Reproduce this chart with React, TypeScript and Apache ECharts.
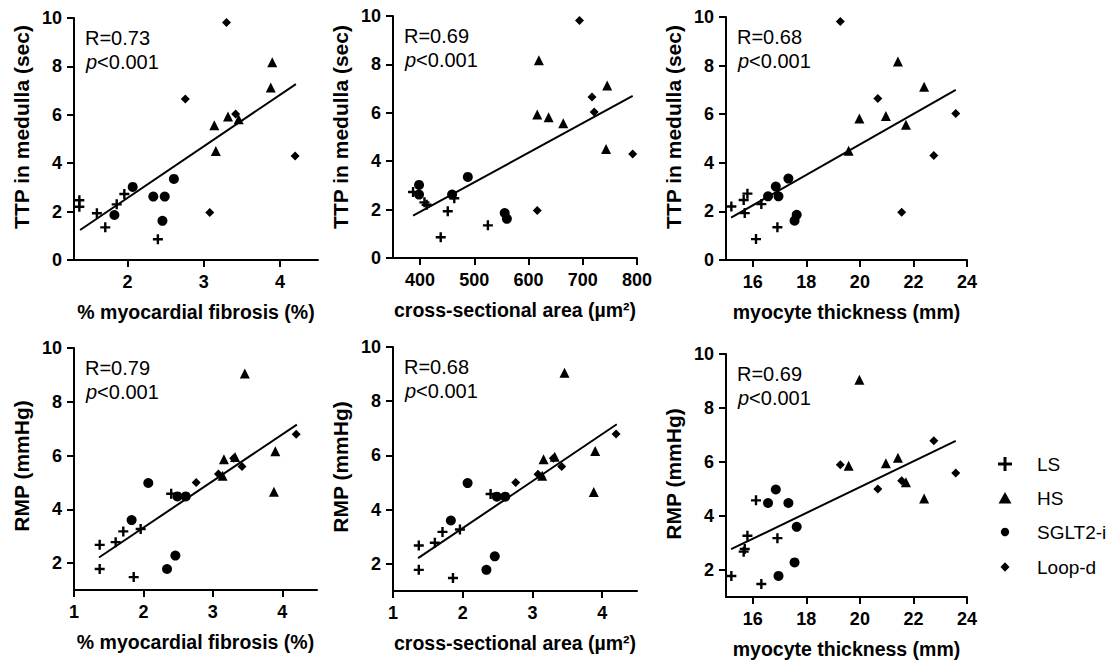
import React, { useEffect, useRef } from 'react';
import * as echarts from 'echarts';

// ---------- data ----------
const groupNames = ['LS', 'HS', 'SGLT2-i', 'Loop-d'];

// LS
const lsFibrosis = [1.37, 1.37, 1.6, 1.71, 1.86, 1.96, 2.4];
const lsArea = [463, 412, 451, 525, 408, 387, 438];
const lsThickness = [15.66, 15.2, 15.7, 16.92, 16.32, 15.8, 16.12];
const lsTtp = [2.47, 2.2, 1.93, 1.35, 2.3, 2.73, 0.86];
const lsRmp = [2.68, 1.78, 2.78, 3.18, 1.48, 3.27, 4.58];

// HS
const hsFibrosis = [3.9, 3.88, 3.14, 3.16, 3.32, 3.46];
const hsArea = [619, 745, 664, 743, 616, 637];
const hsThickness = [21.42, 22.4, 21.72, 19.58, 20.97, 19.98];
const hsTtp = [8.17, 7.13, 5.57, 4.5, 5.93, 5.82];
const hsRmp = [6.16, 4.65, 5.25, 5.86, 5.95, 9.05];

// SGLT2-i
const sgFibrosis = [1.83, 2.07, 2.34, 2.49, 2.46, 2.61];
const sgArea = [556, 398, 459, 398, 560, 488];
const sgThickness = [17.64, 16.86, 16.96, 16.57, 17.56, 17.33];
const sgTtp = [1.86, 3.02, 2.62, 2.62, 1.62, 3.35];
const sgRmp = [3.6, 4.98, 1.78, 4.48, 2.28, 4.48];

// Loop-d
const ldFibrosis = [3.3, 2.76, 3.42, 3.08, 4.2];
const ldArea = [694, 717, 721, 616, 792];
const ldThickness = [19.27, 20.67, 23.58, 21.56, 22.76];
const ldTtp = [9.81, 6.65, 6.03, 1.96, 4.3];
const ldRmp = [5.9, 5.0, 5.59, 5.31, 6.79];

// fitted regression lines (end points)
const fitTtpFibrosis = [[1.38, 1.24], [4.21, 7.27]];
const fitTtpArea = [[387, 1.75], [792, 6.7]];
const fitTtpThickness = [[15.19, 1.74], [23.58, 7.0]];
const fitRmpFibrosis = [[1.36, 2.21], [4.21, 7.15]];
const fitRmpThickness = [[15.19, 2.77], [23.58, 6.78]];

// tick values
const ttpTicks = [0, 2, 4, 6, 8, 10];
const rmpTicks = [2, 4, 6, 8, 10];
const fibrosisTicksTop = [2, 3, 4];
const fibrosisTicksBottom = [1, 2, 3, 4];
const areaTicks = [400, 500, 600, 700, 800];
const thicknessTicks = [16, 18, 20, 22, 24];

const rLabels = ['R=0.73', 'R=0.69', 'R=0.68', 'R=0.79', 'R=0.68', 'R=0.69'];
const pLabel = '<0.001';

// ---------- assembly ----------
const groupX: Record<string, number[][]> = {
  fib: [lsFibrosis, hsFibrosis, sgFibrosis, ldFibrosis],
  area: [lsArea, hsArea, sgArea, ldArea],
  thick: [lsThickness, hsThickness, sgThickness, ldThickness],
};
const groupY: Record<string, number[][]> = {
  ttp: [lsTtp, hsTtp, sgTtp, ldTtp],
  rmp: [lsRmp, hsRmp, sgRmp, ldRmp],
};

const FONT = '"Liberation Sans", Arial, Helvetica, sans-serif';
const PLUS = 'path://M3.8,0h2.4v3.8h3.8v2.4h-3.8v3.8h-2.4v-3.8h-3.8v-2.4h3.8z';
const symbols = [PLUS, 'triangle', 'circle', 'diamond'];
const symbolSizes = [10, 10, 10, 9];

const panels = [
  { x: 'fib', y: 'ttp', grid: { left: 74, top: 18, width: 244, height: 242 }, yTitle: [21, 127], xMin: 1.3, xMax: 4.5, xTicks: fibrosisTicksTop, yMin: 0, yTicks: ttpTicks, xName: '% myocardial fibrosis (%)', yName: 'TTP in medulla (sec)', fit: fitTtpFibrosis },
  { x: 'area', y: 'ttp', grid: { left: 393, top: 16, width: 244, height: 242 }, yTitle: [340, 127], xMin: 350, xMax: 800, xTicks: areaTicks, yMin: 0, yTicks: ttpTicks, xName: 'cross-sectional area (µm²)', yName: 'TTP in medulla (sec)', fit: fitTtpArea },
  { x: 'thick', y: 'ttp', grid: { left: 726, top: 17, width: 241, height: 243 }, yTitle: [673, 127], xMin: 15, xMax: 24, xTicks: thicknessTicks, yMin: 0, yTicks: ttpTicks, xName: 'myocyte thickness (mm)', yName: 'TTP in medulla (sec)', fit: fitTtpThickness },
  { x: 'fib', y: 'rmp', grid: { left: 74, top: 348, width: 243, height: 242 }, yTitle: [21, 466], xMin: 1, xMax: 4.5, xTicks: fibrosisTicksBottom, yMin: 1, yTicks: rmpTicks, xName: '% myocardial fibrosis (%)', yName: 'RMP (mmHg)', fit: fitRmpFibrosis },
  { x: 'fib', y: 'rmp', grid: { left: 393, top: 347, width: 244, height: 244 }, yTitle: [340, 467], xMin: 1, xMax: 4.5, xTicks: fibrosisTicksBottom, yMin: 1, yTicks: rmpTicks, xName: 'cross-sectional area (µm²)', yName: 'RMP (mmHg)', fit: fitRmpFibrosis },
  { x: 'thick', y: 'rmp', grid: { left: 726, top: 354, width: 241, height: 243 }, yTitle: [673, 474], xMin: 15, xMax: 24, xTicks: thicknessTicks, yMin: 1, yTicks: rmpTicks, xName: 'myocyte thickness (mm)', yName: 'RMP (mmHg)', fit: fitRmpThickness },
];

function buildOption() {
  const axisLine = { show: true, onZero: false, lineStyle: { color: '#000', width: 2 } };
  const labelStyle = { color: '#000', fontWeight: 'bold' as const, fontSize: 18, fontFamily: FONT };
  const nameStyle = { color: '#000', fontWeight: 'bold' as const, fontSize: 19.5, fontFamily: FONT };

  const grid = panels.map((p) => ({ ...p.grid, containLabel: false }));
  const xAxis = panels.map((p, i) => ({
    type: 'value', gridIndex: i, min: p.xMin, max: p.xMax,
    axisLine,
    axisTick: { show: true, length: 7, lineStyle: { color: '#000', width: 2 }, customValues: p.xTicks },
    axisLabel: { ...labelStyle, margin: 13, customValues: p.xTicks },
    splitLine: { show: false },
    name: p.xName, nameLocation: 'middle', nameGap: 42, nameTextStyle: nameStyle,
  }));
  const yAxis = panels.map((p, i) => ({
    type: 'value', gridIndex: i, min: p.yMin, max: 10,
    axisLine,
    axisTick: { show: true, length: 7, lineStyle: { color: '#000', width: 2 }, customValues: p.yTicks },
    axisLabel: { ...labelStyle, margin: 12, customValues: p.yTicks },
    splitLine: { show: false },
  }));

  const series: any[] = [];
  panels.forEach((p, i) => {
    const xs = groupX[p.x];
    const ys = groupY[p.y];
    groupNames.forEach((g, k) => {
      series.push({
        type: 'scatter', name: g, xAxisIndex: i, yAxisIndex: i,
        data: xs[k].map((v, j) => [v, ys[k][j]]),
        symbol: symbols[k], symbolSize: symbolSizes[k],
        itemStyle: { color: '#000', opacity: 1 },
        emphasis: { disabled: true },
      });
    });
    series.push({
      type: 'line', name: 'fit' + i, xAxisIndex: i, yAxisIndex: i,
      data: p.fit, symbol: 'none', lineStyle: { color: '#000', width: 2 },
      emphasis: { disabled: true }, z: 3,
    });
  });

  const graphic: any[] = [];
  panels.forEach((p, i) => {
    graphic.push({
      type: 'text', x: p.yTitle[0], y: p.yTitle[1], rotation: Math.PI / 2,
      style: { text: p.yName, fill: '#000', fontSize: 21, fontWeight: 'bold', fontFamily: FONT, align: 'center', verticalAlign: 'middle' },
    });
    graphic.push({
      type: 'text', x: p.grid.left + 11, y: p.grid.top + 20,
      style: { text: rLabels[i], fill: '#000', fontSize: 20, fontFamily: FONT, verticalAlign: 'middle', align: 'left' },
    });
    graphic.push({
      type: 'text', x: p.grid.left + 12, y: p.grid.top + 44,
      style: {
        text: '{i|p}' + pLabel, fill: '#000', fontSize: 20, fontFamily: FONT, verticalAlign: 'middle', align: 'left',
        rich: { i: { fontStyle: 'italic', fontSize: 20, fontFamily: FONT, fill: '#000' } },
      },
    });
  });

  // legend
  const lx = 1005;
  const rows = [464, 498, 532, 567];
  graphic.push({ type: 'rect', shape: { x: lx - 7, y: rows[0] - 1.5, width: 14, height: 3 }, style: { fill: '#000' } });
  graphic.push({ type: 'rect', shape: { x: lx - 1.5, y: rows[0] - 7, width: 3, height: 14 }, style: { fill: '#000' } });
  graphic.push({ type: 'polygon', shape: { points: [[lx, rows[1] - 6], [lx + 6.5, rows[1] + 5.5], [lx - 6.5, rows[1] + 5.5]] }, style: { fill: '#000' } });
  graphic.push({ type: 'circle', shape: { cx: lx, cy: rows[2], r: 4.2 }, style: { fill: '#000' } });
  graphic.push({ type: 'polygon', shape: { points: [[lx, rows[3] - 4.7], [lx + 4.5, rows[3]], [lx, rows[3] + 4.7], [lx - 4.5, rows[3]]] }, style: { fill: '#000' } });
  groupNames.forEach((g, k) => {
    graphic.push({
      type: 'text', x: 1037, y: rows[k],
      style: { text: g, fill: '#000', fontSize: 19, fontFamily: FONT, verticalAlign: 'middle', align: 'left' },
    });
  });

  return {
    animation: false,
    backgroundColor: '#fff',
    grid, xAxis, yAxis, series, graphic,
    tooltip: { show: false },
  };
}

export default function App() {
  const ref = useRef<HTMLDivElement>(null);
  useEffect(() => {
    document.body.style.margin = '0';
    if (!ref.current) return;
    const chart = echarts.init(ref.current, undefined, { renderer: 'svg' });
    chart.setOption(buildOption() as any);
    return () => chart.dispose();
  }, []);
  return (
    <div style={{ position: 'fixed', left: 0, top: 0, width: 1115, height: 666, background: '#fff' }}>
      <div ref={ref} style={{ width: 1115, height: 666 }} />
    </div>
  );
}
